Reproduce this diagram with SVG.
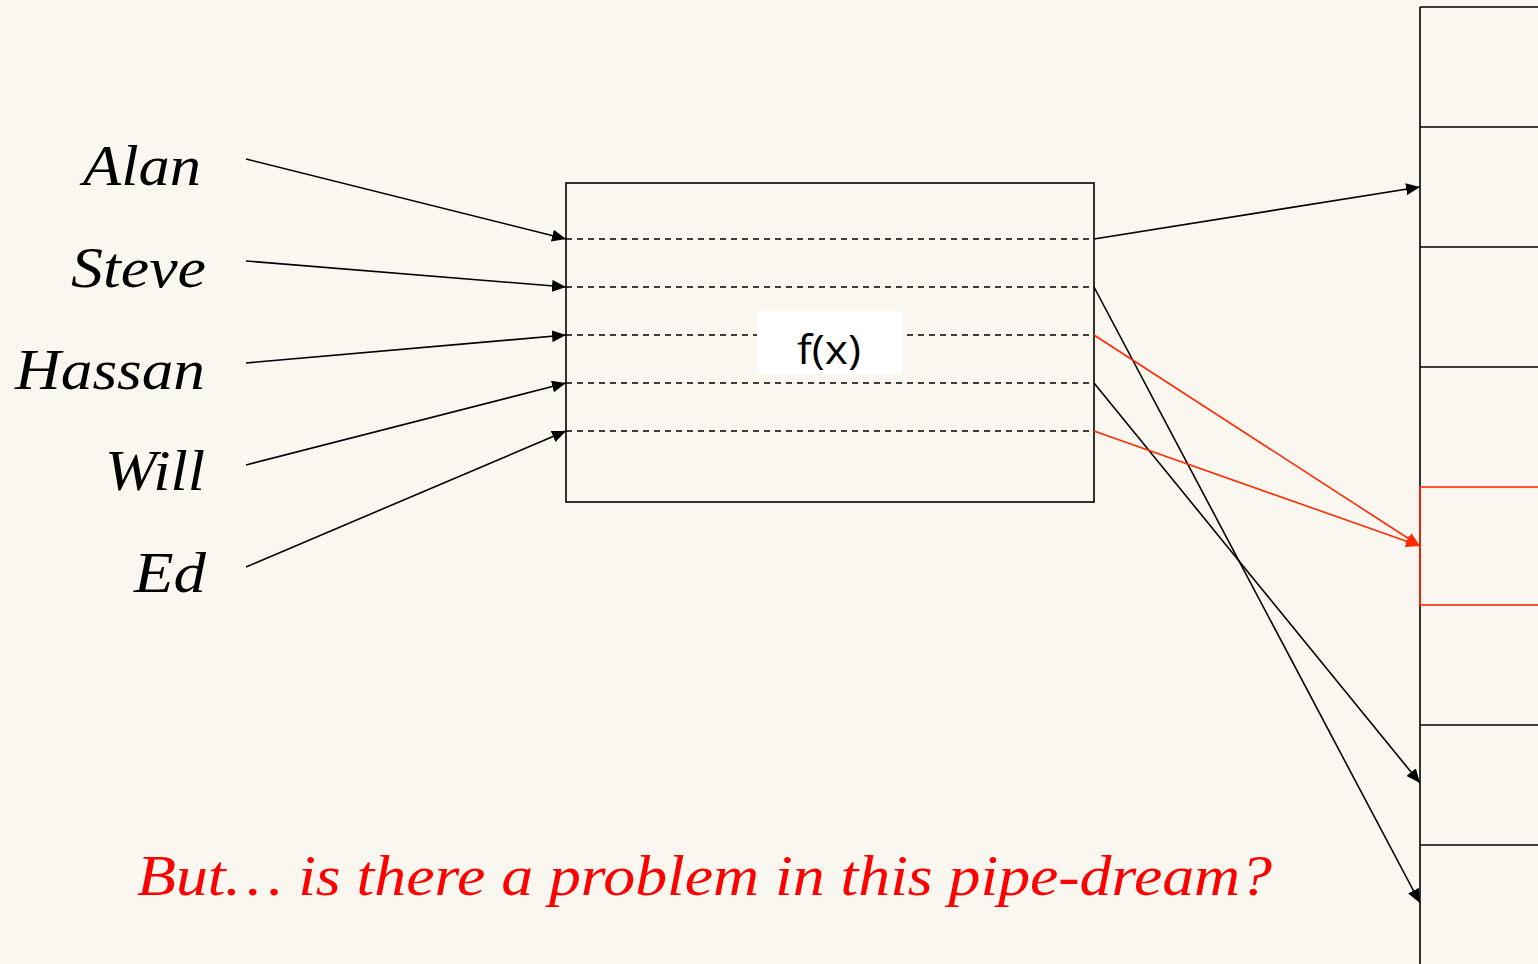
<svg xmlns="http://www.w3.org/2000/svg" width="1538" height="964" viewBox="0 0 1538 964">
<defs>
<style>
.name{font-family:"Liberation Serif",serif;font-style:italic;font-size:58px;fill:#000}
.ln{stroke:#000;stroke-width:1.6;fill:none}
.red{stroke:#FF2A00;stroke-width:1.6;fill:none}
.dash{stroke:#000;stroke-width:1.6;stroke-dasharray:6 5}
</style>
<marker id="ah" viewBox="0 0 14 12" refX="14" refY="6" markerWidth="14" markerHeight="12" markerUnits="userSpaceOnUse" orient="auto"><path d="M0,0 L14,6 L0,12 z" fill="#000"/></marker>
<marker id="ahr" viewBox="0 0 14 12" refX="14" refY="6" markerWidth="14" markerHeight="12" markerUnits="userSpaceOnUse" orient="auto"><path d="M0,0 L14,6 L0,12 z" fill="#FF2A00"/></marker>
</defs>
<rect width="1538" height="964" fill="#F9F7F0"/>
<g id="names">
<text class="name" x="83" y="185" textLength="118" lengthAdjust="spacingAndGlyphs">Alan</text>
<text class="name" x="71" y="287" textLength="135" lengthAdjust="spacingAndGlyphs">Steve</text>
<text class="name" x="15" y="389" textLength="190" lengthAdjust="spacingAndGlyphs">Hassan</text>
<text class="name" x="105" y="490" textLength="100" lengthAdjust="spacingAndGlyphs">Will</text>
<text class="name" x="134" y="592" textLength="72" lengthAdjust="spacingAndGlyphs">Ed</text>
</g>
<g id="hash-function">
<rect x="566" y="183" width="528" height="319" class="ln"/>
<line class="dash" x1="566" y1="239" x2="1094" y2="239"/>
<line class="dash" x1="566" y1="287" x2="1094" y2="287"/>
<line class="dash" x1="566" y1="335" x2="1094" y2="335"/>
<line class="dash" x1="566" y1="383" x2="1094" y2="383"/>
<line class="dash" x1="566" y1="431" x2="1094" y2="431"/>
<rect x="757" y="311" width="145" height="63" fill="#FFFFFF"/>
<text x="797" y="364" font-family="Open Sans, sans-serif" font-size="41" fill="#000" textLength="64" lengthAdjust="spacingAndGlyphs">f(x)</text>
</g>
<g id="table">
<line class="ln" x1="1420" y1="7" x2="1420" y2="964"/>
<line class="ln" x1="1420" y1="7" x2="1538" y2="7"/>
<line class="ln" x1="1420" y1="127" x2="1538" y2="127"/>
<line class="ln" x1="1420" y1="247" x2="1538" y2="247"/>
<line class="ln" x1="1420" y1="367" x2="1538" y2="367"/>
<line class="ln" x1="1420" y1="725" x2="1538" y2="725"/>
<line class="ln" x1="1420" y1="845" x2="1538" y2="845"/>
<rect class="red" x="1420" y="487" width="130" height="118"/>
</g>
<g id="connectors">
<line class="ln" x1="246" y1="159" x2="566" y2="239" marker-end="url(#ah)"/>
<line class="ln" x1="246" y1="261" x2="566" y2="287" marker-end="url(#ah)"/>
<line class="ln" x1="246" y1="363" x2="566" y2="335" marker-end="url(#ah)"/>
<line class="ln" x1="246" y1="465" x2="566" y2="383" marker-end="url(#ah)"/>
<line class="ln" x1="246" y1="567" x2="566" y2="431" marker-end="url(#ah)"/>
<line class="ln" x1="1094" y1="239" x2="1420" y2="187" marker-end="url(#ah)"/>
<line class="ln" x1="1094" y1="287" x2="1420" y2="903" marker-end="url(#ah)"/>
<line class="ln" x1="1094" y1="383" x2="1420" y2="783" marker-end="url(#ah)"/>
<line class="red" x1="1094" y1="335" x2="1420" y2="546" marker-end="url(#ahr)"/>
<line class="red" x1="1094" y1="431" x2="1420" y2="546" marker-end="url(#ahr)"/>
</g>
<text x="137" y="895" font-family="Liberation Serif, serif" font-style="italic" font-size="58" fill="#FF0000" textLength="1135" lengthAdjust="spacingAndGlyphs">But… is there a problem in this pipe-dream?</text>
</svg>
